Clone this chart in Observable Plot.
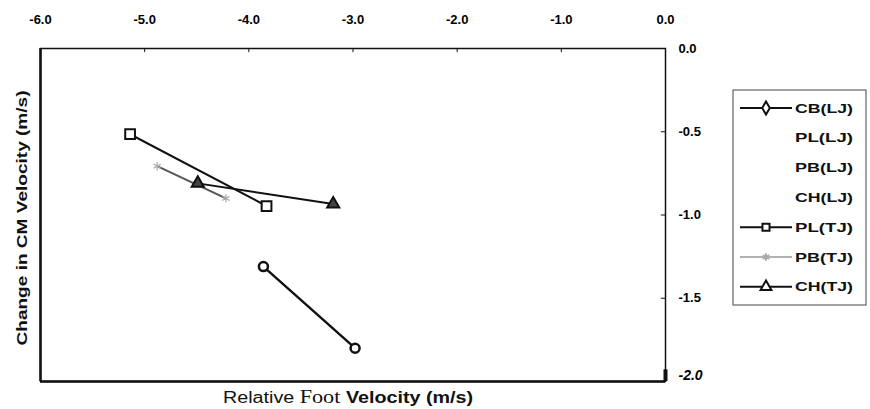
<!DOCTYPE html>
<html>
<head>
<meta charset="utf-8">
<script src="https://cdn.jsdelivr.net/npm/d3@7"></script>
<script src="https://cdn.jsdelivr.net/npm/@observablehq/plot@0.6"></script>
<style>
  html, body { margin: 0; padding: 0; background: #fff; }
  #chart { width: 870px; height: 409px; }
</style>
</head>
<body>
<div id="chart"></div>
<script>
// ---- data ----
const xTicks = [-6, -5, -4, -3, -2, -1, 0];
const yTicks = [0, -0.5, -1, -1.5];
const yLast = [-2];
const seriesNames = ["CB(LJ)", "PL(LJ)", "PB(LJ)", "CH(LJ)", "PL(TJ)", "PB(TJ)", "CH(TJ)"];
const cbX = [-3.86, -2.98], cbY = [-1.31, -1.80];
const plX = [-5.14, -3.83], plY = [-0.515, -0.946];
const pbX = [-4.88, -4.22], pbY = [-0.707, -0.90];
const chX = [-4.49, -3.19], chY = [-0.81, -0.934];

const toRows = (xs, ys, s) => xs.map((x, i) => ({x, y: ys[i], s}));
const cb = toRows(cbX, cbY, "CB(LJ)");
const pl = toRows(plX, plY, "PL(TJ)");
const pb = toRows(pbX, pbY, "PB(TJ)");
const ch = toRows(chX, chY, "CH(TJ)");
const fmt = d => d.toFixed(1);

const font = "Liberation Sans, Arial, sans-serif";

const chart = Plot.plot({
  width: 870,
  height: 409,
  marginLeft: 40,
  marginRight: 205,
  marginTop: 48,
  marginBottom: 28,
  style: {fontFamily: font, fontSize: "12px", background: "white", color: "#111"},
  x: {domain: [-6, 0], axis: null},
  y: {domain: [-2, 0], axis: null},
  marks: [
    Plot.frame({stroke: "#111", strokeWidth: 1.5}),
    Plot.ruleX([-6], {stroke: "#111", strokeWidth: 2.5}),
    Plot.ruleY([-2], {stroke: "#111", strokeWidth: 2.5}),
    Plot.ruleX([0], {y1: -2, y2: -1.93, stroke: "#111", strokeWidth: 4}),
    // inward ticks
    Plot.ruleX(xTicks, {y1: 0, y2: -0.025, stroke: "#111", strokeWidth: 1}),
    Plot.ruleY(yTicks, {x1: 0, x2: -0.04, stroke: "#111", strokeWidth: 1}),
    // tick labels
    Plot.text(xTicks, {x: d => d, y: 0, text: fmt, dy: -29, fill: "#000", fontSize: 13, fontWeight: 600}),
    Plot.text(yTicks, {x: 0, y: d => d, text: fmt, dx: 13, textAnchor: "start", fill: "#000", fontSize: 13, fontWeight: 600}),
    Plot.text(yLast, {x: 0, y: d => d, text: fmt, dx: 13, dy: -6, textAnchor: "start", fill: "#000", fontSize: 14, fontWeight: "bold", fontStyle: "italic"}),
    // series
    Plot.line(pb, {x: "x", y: "y", stroke: "#555", strokeWidth: 2}),
    Plot.line(pl, {x: "x", y: "y", stroke: "#111", strokeWidth: 2}),
    Plot.line(ch, {x: "x", y: "y", stroke: "#111", strokeWidth: 2}),
    Plot.line(cb, {x: "x", y: "y", stroke: "#111", strokeWidth: 2.4}),
    Plot.dot(pb, {x: "x", y: "y", symbol: "asterisk", r: 4, stroke: "#aaa", strokeWidth: 1.2}),
    Plot.dot(pl, {x: "x", y: "y", symbol: "square", r: 5.5, fill: "white", stroke: "#111", strokeWidth: 2}),
    Plot.dot(ch, {x: "x", y: "y", symbol: "triangle", r: 4.5, fill: "#444", stroke: "#111", strokeWidth: 2}),
    Plot.dot(cb, {x: "x", y: "y", symbol: "circle", r: 4.5, fill: "white", stroke: "#111", strokeWidth: 2.5})
  ]
});
document.getElementById("chart").appendChild(chart);

const svg = d3.select(chart);

// y title (left)
svg.append("text")
  .attr("transform", "translate(22,218) rotate(-90)")
  .attr("text-anchor", "middle")
  .attr("dy", "0.35em")
  .attr("font-family", font)
  .attr("font-size", 15)
  .attr("font-weight", "bold")
  .attr("fill", "#111")
  .attr("textLength", 255)
  .attr("lengthAdjust", "spacingAndGlyphs")
  .text("Change in CM Velocity (m/s)");

// x title (bottom)
const xt = svg.append("text")
  .attr("x", 223).attr("y", 403)
  .attr("text-anchor", "start")
  .attr("font-size", 16)
  .attr("fill", "#111")
  .attr("textLength", 250)
  .attr("lengthAdjust", "spacingAndGlyphs");
xt.append("tspan").attr("font-family", font).text("Relative ");
xt.append("tspan").attr("font-family", "Liberation Serif, Times New Roman, serif").attr("font-size", 18).text("Foot ");
xt.append("tspan").attr("font-family", "Liberation Sans Narrow, Arial Narrow, sans-serif").attr("font-weight", "bold").text("Velocity (m/s)");

// legend
const lg = svg.append("g");
lg.append("rect").attr("x", 733).attr("y", 90).attr("width", 133).attr("height", 215)
  .attr("fill", "white").attr("stroke", "#444").attr("stroke-width", 1);
const legendStyle = {
  "CB(LJ)": {line: "#111", marker: "circle"},
  "PL(LJ)": null,
  "PB(LJ)": null,
  "CH(LJ)": null,
  "PL(TJ)": {line: "#111", marker: "square"},
  "PB(TJ)": {line: "#999", marker: "asterisk"},
  "CH(TJ)": {line: "#111", marker: "triangle"}
};
seriesNames.forEach((name, i) => {
  const y = 108 + i * 29.8;
  const st = legendStyle[name];
  if (st) {
    lg.append("line").attr("x1", 740).attr("x2", 792).attr("y1", y).attr("y2", y)
      .attr("stroke", st.line).attr("stroke-width", name === "PB(TJ)" ? 1.5 : 2);
    const sym = {circle: d3.symbolDiamond, square: d3.symbolSquare, asterisk: d3.symbolAsterisk, triangle: d3.symbolTriangle}[st.marker];
    lg.append("path")
      .attr("transform", `translate(766,${y})`)
      .attr("d", d3.symbol(sym, st.marker === "asterisk" ? 40 : 50)())
      .attr("fill", st.marker === "asterisk" ? "none" : "white")
      .attr("stroke", st.marker === "asterisk" ? "#aaa" : "#111")
      .attr("stroke-width", 2);
  }
  lg.append("text").attr("x", 795).attr("y", y).attr("dy", "0.35em")
    .attr("text-anchor", "start")
    .attr("font-family", font).attr("font-size", 13).attr("font-weight", 600).attr("fill", "#111")
    .attr("textLength", 58).attr("lengthAdjust", "spacingAndGlyphs")
    .text(name);
});
</script>
</body>
</html>
